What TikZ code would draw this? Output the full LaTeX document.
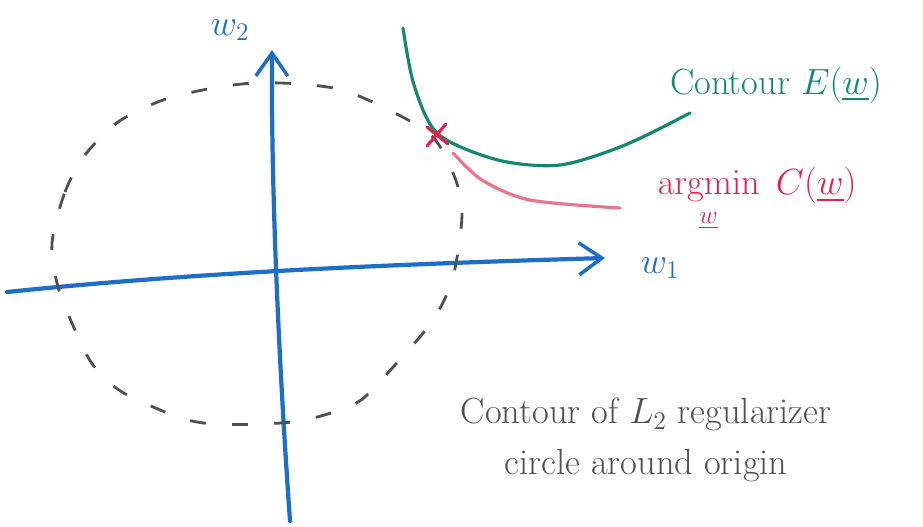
\documentclass[tikz,border=0pt]{standalone}
\usepackage{amsmath, amssymb}
\usepackage{tikz}
\usetikzlibrary{arrows.meta}
\usepackage{xcolor}
\definecolor{axisblue}{RGB}{30,110,200}
\definecolor{contgreen}{RGB}{20,135,110}
\definecolor{minred}{RGB}{225,35,75}
\definecolor{pathpink}{RGB}{235,115,140}
\definecolor{pencil}{RGB}{80,80,80}
\newcommand{\uw}{\underline{w}}
\tikzset{
  axis/.style    ={line width=2.4pt, axisblue, line cap=round,
                   -{Straight Barb[length=4.6mm, width=6.4mm, line width=2pt]}},
  regcirc/.style ={line width=1.6pt, pencil, dash pattern=on 9pt off 15pt},   % L2 contour
  contour/.style ={line width=1.8pt, contgreen, line cap=round},
  minpath/.style ={line width=1.8pt, pathpink, line cap=round},
  cross/.style   ={line width=1.8pt, minred, line cap=round},
  axlbl/.style   ={font=\huge, text=axisblue},
  note/.style    ={font=\huge, inner sep=0pt},
}

\begin{document}
\begin{tikzpicture}[x=0.02cm, y=-0.02cm]
  \useasboundingbox (0,0) rectangle (923,527);

  % axes
  \coordinate (xfrom) at (7,292);
  \coordinate (xto)   at (605,258);
  \coordinate (yfrom) at (290,521);
  \coordinate (yto)   at (272,50);
  \draw[axis] (xfrom) .. controls (200,272) and (400,264) .. (xto);
  \draw[axis] (yfrom) .. controls (280,380) and (271,200) .. (yto);
  \node[axlbl] (w1) at (660,268) {$w_1$};
  \node[axlbl] (w2) at (230,30)  {$w_2$};

  % L2 regularizer contour
  \draw[regcirc] plot[smooth cycle] coordinates {
    (52,243) (65,192) (85,155) (118,122) (163,100) (213,88) (255,83) (300,84)
    (342,90) (385,108) (432,136) (455,178) (462,215) (453,277) (433,320)
    (395,365) (358,402) (305,420) (260,424) (213,424) (178,417) (122,392)
    (93,365) (75,330) (58,287)};

  % error contour and path of minimisers
  \draw[contour] plot[smooth] coordinates {
    (403,28) (414,85) (438,134) (498,160) (560,165) (625,145) (690,113)};
  \draw[minpath] plot[smooth] coordinates {(453,153) (482,180) (530,200) (620,208)};
  \coordinate (opt) at (437,136);
  \draw[cross] (opt) ++(-10,10) -- ++(19,-22);
  \draw[cross] (opt) ++(-10,-9) -- ++(21,17);

  \node[note, text=contgreen] (elbl) at (776,85) {Contour $E(\uw)$};
  \node[note, text=minred] (clbl) at (757,200)
    {$\displaystyle\mathop{\mathrm{argmin}}\limits_{\uw}\; C(\uw)$};
  \node[note, text=pencil, align=center] (rlbl) at (646,440)
    {Contour of $L_2$ regularizer\\[4pt]circle around origin};
\end{tikzpicture}
\end{document}
